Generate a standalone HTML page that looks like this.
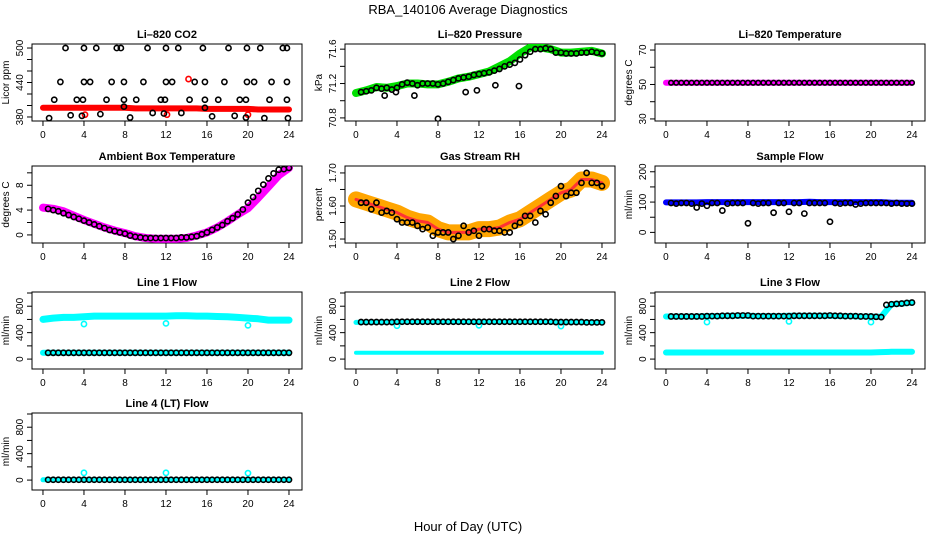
<!DOCTYPE html>
<html><head><meta charset="utf-8">
<style>
html,body{margin:0;padding:0;background:#fff;}
svg{display:block;font-family:"Liberation Sans",sans-serif;}
</style></head>
<body>
<svg id="chart" width="936" height="540" viewBox="0 0 936 540" xmlns="http://www.w3.org/2000/svg">
<text x="468" y="14" text-anchor="middle" font-size="13">RBA_140106  Average Diagnostics</text>
<text x="468" y="531" text-anchor="middle" font-size="13">Hour of Day (UTC)</text>
</svg>
<script>
// ---- data ----
const hoursColored = [0,1,2,3,4,5,6,7,8,9,10,11,12,13,14,15,16,17,18,19,20,21,22,23,24];
const hoursBlack = [0.5,1,1.5,2,2.5,3,3.5,4,4.5,5,5.5,6,6.5,7,7.5,8,8.5,9,9.5,10,10.5,11,11.5,12,12.5,13,13.5,14,14.5,15,15.5,16,16.5,17,17.5,18,18.5,19,19.5,20,20.5,21,21.5,22,22.5,23,23.5,24];
const xTicks = [0,4,8,12,16,20,24];

const co2Red = [396,396,396,396,396,396,396,396,396,395,395,395,395,395,395,395,394,394,394,394,394,393,393,393,393];
const co2OutHours = [2.2,4.0,5.2,7.2,7.6,10.2,12.0,13.2,15.6,18.1,19.9,21.2,23.4,23.8, 1.7,4.0,4.6,6.7,7.9,9.8,12.0,12.6,14.8,15.8,17.7,19.9,20.6,22.3,23.8, 1.1,3.3,3.9,6.2,7.9,9.1,11.5,11.9,14.3,15.8,17.1,19.2,19.8,22.1,23.8, 0.6,2.7,3.8,5.6,7.9,8.5,10.7,11.8,13.5,15.8,16.5,18.7,19.8,21.6,23.9];
const co2OutVals = [500,500,500,500,500,500,500,500,500,500,500,500,500,500, 441,441,441,441,441,441,441,441,441,441,441,441,441,441,441, 410,410,410,410,410,410,410,410,410,410,410,410,410,410,410, 378,383,382,385,398,379,387,386,387,396,381,382,379,378,378];
const co2RedOutHours = [4.1,12.1,14.2,20.0];
const co2RedOutVals = [384,384,446,384];

const presGreen = [71.09,71.12,71.16,71.15,71.17,71.2,71.2,71.19,71.19,71.22,71.26,71.28,71.31,71.34,71.4,71.46,71.55,71.62,71.62,71.6,71.56,71.56,71.57,71.58,71.55];
const presBlack = [71.1,71.11,71.12,71.15,71.14,71.15,71.13,71.15,71.19,71.21,71.2,71.18,71.2,71.2,71.2,71.19,71.2,71.22,71.24,71.26,71.27,71.28,71.3,71.31,71.32,71.33,71.35,71.37,71.4,71.42,71.44,71.48,71.53,71.57,71.6,71.6,71.61,71.6,71.56,71.56,71.55,71.55,71.55,71.56,71.56,71.57,71.56,71.55];
const presOutHours = [2.8,3.9,5.7,8.0,10.7,11.8,13.6,15.9];
const presOutVals = [71.06,71.1,71.06,70.79,71.1,71.12,71.18,71.17];

const tempMag = [51,51,51,51,51,51,51,51,51,51,51,51,51,51,51,51,51,51,51,51,51,51,51,51,51];
const tempBlack = [51,51,51,51,51,51,51,51,51,51,51,51,51,51,51,51,51,51,51,51,51,51,51,51,51,51,51,51,51,51,51,51,51,51,51,51,51,51,51,51,51,51,51,51,51,51,51,51];

const ambMag = [4.4,4.2,3.8,3.1,2.4,1.8,1.2,0.7,0.3,-0.2,-0.5,-0.6,-0.6,-0.6,-0.5,-0.1,0.4,1.2,2.2,3.3,4.3,6.0,7.8,9.6,10.8];
const ambBlack = [4.2,4.0,3.8,3.5,3.2,2.9,2.6,2.3,2.0,1.7,1.4,1.1,0.8,0.6,0.4,0.2,-0.1,-0.3,-0.4,-0.5,-0.5,-0.5,-0.5,-0.5,-0.5,-0.5,-0.4,-0.4,-0.3,-0.2,0.1,0.4,0.8,1.2,1.6,2.2,2.7,3.3,4.1,5.2,6.1,7.1,8.1,9.1,9.9,10.5,10.6,10.8];

const rhOrange = [1.62,1.61,1.6,1.59,1.58,1.565,1.555,1.55,1.53,1.52,1.52,1.52,1.53,1.53,1.535,1.55,1.56,1.58,1.6,1.62,1.64,1.65,1.68,1.68,1.67];
const rhBlack = [1.61,1.61,1.59,1.61,1.58,1.585,1.58,1.56,1.55,1.55,1.55,1.54,1.53,1.535,1.51,1.52,1.52,1.52,1.5,1.51,1.54,1.52,1.525,1.51,1.53,1.53,1.525,1.525,1.52,1.52,1.54,1.55,1.57,1.57,1.55,1.585,1.575,1.61,1.63,1.66,1.63,1.64,1.64,1.67,1.7,1.67,1.67,1.66];

const flowBlue = [99,99,99,99,100,100,100,100,100,100,100,100,100,100,101,100,100,100,100,100,100,100,98,98,98];
const flowBlack = [97,95,97,97,95,82,95,88,97,97,72,95,97,97,97,30,97,95,97,97,65,97,97,68,97,97,62,97,97,97,97,35,97,95,97,97,92,95,97,97,97,97,97,95,97,95,95,95];

const l1Upper = [600,620,630,630,640,650,650,650,650,650,650,650,650,655,655,650,650,645,640,630,620,610,590,590,590];
const l1Lower = [95,95,95,95,95,95,95,95,95,95,95,95,95,95,95,95,95,95,95,95,95,95,95,95,95];
const l1Black = [95,95,95,95,95,95,95,95,95,95,95,95,95,95,95,95,95,95,95,95,95,95,95,95,95,95,95,95,95,95,95,95,95,95,95,95,95,95,95,95,95,95,95,95,95,95,95,95];
const l1OutHours = [4,12,20];
const l1OutVals = [530,540,510];

const l2Upper = [555,560,560,560,565,565,565,565,565,565,565,565,565,565,565,565,565,565,565,565,560,560,560,555,555];
const l2Lower = [95,95,95,95,95,95,95,95,95,95,95,95,95,95,95,95,95,95,95,95,95,95,95,95,95];
const l2Black = [560,560,560,560,560,560,560,565,565,565,565,565,565,565,565,565,565,565,565,565,565,565,565,565,565,565,565,565,565,565,565,565,565,565,565,565,565,565,560,560,560,560,560,560,555,555,555,555];
const l2OutHours = [4,12,20];
const l2OutVals = [505,510,500];

const l3Upper = [645,645,645,645,650,650,655,655,655,650,650,650,655,655,655,655,655,650,650,645,645,640,830,840,855];
const l3Lower = [100,100,100,100,100,100,100,100,100,100,100,100,100,100,100,100,100,100,100,100,100,105,110,110,110];
const l3Black = [645,645,645,645,645,645,645,650,650,650,655,655,655,660,660,660,650,650,650,650,650,650,650,650,655,655,655,655,655,655,655,660,655,655,650,650,650,645,645,645,640,635,820,830,835,840,850,855];
const l3OutHours = [4,12,20];
const l3OutVals = [560,570,560];

const l4Cyan = [5,5,5,5,5,5,5,5,5,5,5,5,5,5,5,5,5,5,5,5,5,5,5,5,5];
const l4Black = [5,5,5,5,5,5,5,5,5,5,5,5,5,5,5,5,5,5,5,5,5,5,5,5,5,5,5,5,5,5,5,5,5,5,5,5,5,5,5,5,5,5,5,5,5,5,5,5];
const l4OutHours = [4,12,20];
const l4OutVals = [110,110,105];

// ---- drawing ----
const NS = "http://www.w3.org/2000/svg";
const svg = document.getElementById('chart');
function mk(tag, attrs, parent){
  const e = document.createElementNS(NS, tag);
  for (const k in attrs) e.setAttribute(k, attrs[k]);
  (parent||svg).appendChild(e);
  return e;
}
const W = 270, H = 77;
function panel(name, left, top, title, ylab, ylim, yTicks, yLabels){
  const g = mk('g', {});
  
  
  const xs = h => left + (h + 1.07) / 26.34 * W;
  const ys = v => top + H - (v - ylim[0]) / (ylim[1] - ylim[0]) * H;
  const t = mk('text', {x: left + W/2, y: top - 6, 'text-anchor':'middle', 'font-size':'11', 'font-weight':'bold'}, g);
  t.textContent = title;
  
  
  const box = mk('rect', {x:left, y:top, width:W, height:H, fill:'none', stroke:'#000', 'stroke-width':1}, g);
  
  
  const xa = mk('g', {}, g);
  
  
  xTicks.forEach(h => {
    mk('line', {x1:xs(h), x2:xs(h), y1:top+H, y2:top+H+5, stroke:'#000'}, xa);
    const tx = mk('text', {x:xs(h), y:top+H+17, 'text-anchor':'middle', 'font-size':'10'}, xa);
    tx.textContent = h;
  });
  const ya = mk('g', {}, g);
  
  
  yTicks.forEach(v => {
    mk('line', {x1:left-5, x2:left, y1:ys(v), y2:ys(v), stroke:'#000'}, ya);
  });
  yLabels.forEach(v => {
    const tx = mk('text', {x:0, y:0, 'text-anchor':'middle', 'font-size':'10', transform:`translate(${left-9},${ys(v)}) rotate(-90)`}, ya);
    tx.textContent = v;
  });
  const yt = mk('text', {x:0, y:0, 'text-anchor':'middle', 'font-size':'10', transform:`translate(${left-23},${top+H/2}) rotate(-90)`}, g);
  yt.textContent = ylab;
  
  
  const clip = mk('clipPath', {id:'clip-'+name}, g);
  mk('rect', {x:left, y:top, width:W, height:H}, clip);
  const plot = mk('g', {'clip-path':`url(#clip-${name})`}, g);
  return {g: plot, xs, ys};
}
function band(p, name, hours, vals, color, width){
  const pts = hours.map((h,i) => p.xs(h).toFixed(1) + ',' + p.ys(vals[i]).toFixed(1)).join(' ');
  const pl = mk('polyline', {points:pts, fill:'none', stroke:color, 'stroke-width':width, 'stroke-linejoin':'round', 'stroke-linecap':'round'}, p.g);
  
  
}
function circles(p, name, hours, vals, color, r){
  const g = mk('g', {}, p.g);
  
  
  hours.forEach((h,i) => {
    const c = mk('circle', {cx:p.xs(h), cy:p.ys(vals[i]), r:r||2.6, fill:'none', stroke:color, 'stroke-width':1.6}, g);
    
    
  });
}
const cols = [32, 345, 655];
const rows = [44, 166, 292, 413];
const flowLim = [-150, 1015];
const flowTicks = [0,200,400,600,800,1000];
const flowLabels = [0,400,800];

let p;
p = panel('co2', cols[0], rows[0], 'Li–820 CO2', 'Licor ppm', [373,507], [380,400,420,440,460,480,500], [380,440,500]);
band(p, 'co2-red-series', hoursColored, co2Red, '#f00', 6);
circles(p, 'co2-red-outliers', co2RedOutHours, co2RedOutVals, '#f00');
circles(p, 'co2-black-points', co2OutHours, co2OutVals, '#000');

p = panel('pressure', cols[1], rows[0], 'Li–820 Pressure', 'kPa', [70.764,71.66], [70.8,71.0,71.2,71.4,71.6], ['70.8','71.2','71.6']);
band(p, 'pressure-green-series', hoursColored, presGreen, '#00e000', 8);
circles(p, 'pressure-black-points', hoursBlack, presBlack, '#000');
circles(p, 'pressure-outliers', presOutHours, presOutVals, '#000');

p = panel('li820-temp', cols[2], rows[0], 'Li–820 Temperature', 'degrees C', [28.8,73.5], [30,40,50,60,70], [30,50,70]);
band(p, 'temp-magenta-series', hoursColored, tempMag, '#f0f', 6);
circles(p, 'temp-black-points', hoursBlack, tempBlack, '#000', 2.3);

p = panel('ambient-temp', cols[0], rows[1], 'Ambient Box Temperature', 'degrees C', [-1.3,11.1], [0,2,4,6,8,10], [0,4,8]);
band(p, 'ambient-magenta-series', hoursColored, ambMag, '#f0f', 8);
circles(p, 'ambient-black-points', hoursBlack, ambBlack, '#000');

p = panel('rh', cols[1], rows[1], 'Gas Stream RH', 'percent', [1.488,1.721], [1.5,1.55,1.6,1.65,1.7], ['1.50','1.60','1.70']);
band(p, 'rh-orange-series', hoursColored, rhOrange, '#ffa500', 16);
band(p, 'rh-red-series', hoursColored, rhOrange, '#f33', 3);
circles(p, 'rh-black-points', hoursBlack, rhBlack, '#000');

p = panel('sample-flow', cols[2], rows[1], 'Sample Flow', 'ml/min', [-35,219], [0,50,100,150,200], [0,100,200]);
band(p, 'sample-blue-series', hoursColored, flowBlue, '#00f', 6);
circles(p, 'sample-black-points', hoursBlack, flowBlack, '#000');

p = panel('line1', cols[0], rows[2], 'Line 1 Flow', 'ml/min', flowLim, flowTicks, flowLabels);
band(p, 'line1-cyan-upper', hoursColored, l1Upper, '#0ff', 7);
band(p, 'line1-cyan-lower', hoursColored, l1Lower, '#0ff', 6);
circles(p, 'line1-cyan-outliers', l1OutHours, l1OutVals, '#0ff');
circles(p, 'line1-black-points', hoursBlack, l1Black, '#000');

p = panel('line2', cols[1], rows[2], 'Line 2 Flow', 'ml/min', flowLim, flowTicks, flowLabels);
band(p, 'line2-cyan-upper', hoursColored, l2Upper, '#0ff', 5);
band(p, 'line2-cyan-lower', hoursColored, l2Lower, '#0ff', 4);
circles(p, 'line2-cyan-outliers', l2OutHours, l2OutVals, '#0ff');
circles(p, 'line2-black-points', hoursBlack, l2Black, '#000');

p = panel('line3', cols[2], rows[2], 'Line 3 Flow', 'ml/min', flowLim, flowTicks, flowLabels);
band(p, 'line3-cyan-upper', hoursColored, l3Upper, '#0ff', 6);
band(p, 'line3-cyan-lower', hoursColored, l3Lower, '#0ff', 6);
circles(p, 'line3-cyan-outliers', l3OutHours, l3OutVals, '#0ff');
circles(p, 'line3-black-points', hoursBlack, l3Black, '#000');

p = panel('line4', cols[0], rows[3], 'Line 4 (LT) Flow', 'ml/min', flowLim, flowTicks, flowLabels);
band(p, 'line4-cyan-series', hoursColored, l4Cyan, '#0ff', 5);
circles(p, 'line4-cyan-outliers', l4OutHours, l4OutVals, '#0ff');
circles(p, 'line4-black-points', hoursBlack, l4Black, '#000');
</script>
</body></html>
